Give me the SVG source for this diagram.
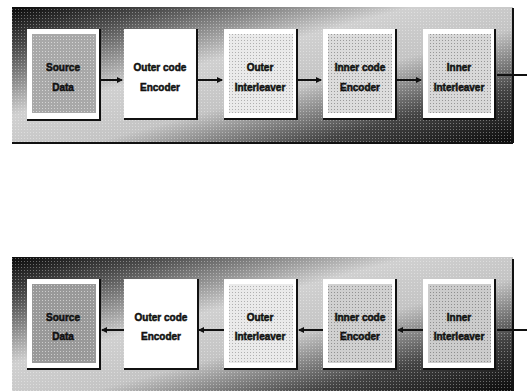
<svg xmlns="http://www.w3.org/2000/svg" width="527" height="391" viewBox="0 0 527 391">
<style>
.lbl{font-family:"Liberation Sans",Arial,sans-serif;font-weight:bold;font-size:10px;fill:#111;text-anchor:middle;stroke:#111;stroke-width:0.5}
.frame{fill:#fff}
.shadow{fill:none;stroke:#111;stroke-width:2}
.conn{stroke:#111;stroke-width:2;fill:none}
.edge{stroke:#111;stroke-width:2;fill:none}
</style>
<defs>
<linearGradient id="bg" x1="0" y1="0" x2="1" y2="1">
<stop offset="0" stop-color="#0a0a0a"/>
<stop offset="0.15" stop-color="#4a4a4a"/>
<stop offset="0.4" stop-color="#d0d0d0"/>
<stop offset="0.58" stop-color="#c4c4c4"/>
<stop offset="0.8" stop-color="#444"/>
<stop offset="1" stop-color="#0a0a0a"/>
</linearGradient>
<pattern id="dots" width="3" height="3" patternUnits="userSpaceOnUse">
<rect x="0" y="0" width="1" height="1" fill="#fff"/>
</pattern>
<pattern id="dotsd" width="3" height="3" patternUnits="userSpaceOnUse">
<rect x="1" y="1" width="1" height="1" fill="#000"/>
</pattern>
<marker id="ah" viewBox="0 0 6 6" refX="5" refY="3" markerWidth="3" markerHeight="3" orient="auto-start-reverse">
<path d="M0,0 L6,3 L0,6 z" fill="#111"/>
</marker>
</defs>

<g id="panel-top">
<rect x="12" y="7" width="501" height="136" fill="url(#bg)"/>
<rect x="12" y="7" width="501" height="136" fill="url(#dots)" opacity="0.35"/>
<path class="edge" d="M513,8 V143 M12,143 H513"/>
</g>
<g id="panel-bottom">
<rect x="12" y="257" width="501" height="134" fill="url(#bg)"/>
<rect x="12" y="257" width="501" height="134" fill="url(#dots)" opacity="0.35"/>
<path class="edge" d="M513,259 V391"/>
</g>

<g id="connectors">
<line class="conn" x1="101" y1="80" x2="122" y2="80" marker-end="url(#ah)"/>
<line class="conn" x1="198" y1="80" x2="222" y2="80" marker-end="url(#ah)"/>
<line class="conn" x1="298" y1="80" x2="321" y2="80" marker-end="url(#ah)"/>
<line class="conn" x1="397" y1="80" x2="421" y2="80" marker-end="url(#ah)"/>
<line class="conn" x1="497" y1="75" x2="527" y2="75"/>
<line class="conn" x1="102" y1="330" x2="124" y2="330" marker-start="url(#ah)"/>
<line class="conn" x1="199" y1="330" x2="224" y2="330" marker-start="url(#ah)"/>
<line class="conn" x1="299" y1="330" x2="323" y2="330" marker-start="url(#ah)"/>
<line class="conn" x1="398" y1="330" x2="423" y2="330" marker-start="url(#ah)"/>
<line class="conn" x1="497" y1="330" x2="527" y2="330"/>
</g>

<g id="t-source">
<rect class="frame" x="27" y="29" width="73" height="91"/>
<rect x="32" y="34" width="64" height="79" fill="#a8a8a8"/>
<rect x="32" y="34" width="64" height="79" fill="url(#dots)" opacity="0.5"/>
<path class="shadow" d="M100,29 V120 H27"/>
<text class="lbl" x="63" y="71">Source</text>
<text class="lbl" x="63" y="91">Data</text>
</g>
<g id="t-outer-enc">
<rect class="frame" x="124" y="29" width="73" height="90"/>
<path class="shadow" d="M197,29 V119 H124"/>
<text class="lbl" x="160" y="71">Outer code</text>
<text class="lbl" x="160" y="91">Encoder</text>
</g>
<g id="t-outer-int">
<rect class="frame" x="224" y="29" width="73" height="90"/>
<rect x="229" y="34" width="64" height="79" fill="#eaeaea"/>
<rect x="229" y="34" width="64" height="79" fill="url(#dotsd)" opacity="0.25"/>
<path class="shadow" d="M297,29 V119 H224"/>
<text class="lbl" x="260" y="71">Outer</text>
<text class="lbl" x="260" y="91">Interleaver</text>
</g>
<g id="t-inner-enc">
<rect class="frame" x="323" y="29" width="73" height="90"/>
<rect x="328" y="34" width="64" height="79" fill="#dcdcdc"/>
<rect x="328" y="34" width="64" height="79" fill="url(#dotsd)" opacity="0.3"/>
<path class="shadow" d="M396,29 V119 H323"/>
<text class="lbl" x="360" y="71">Inner code</text>
<text class="lbl" x="360" y="91">Encoder</text>
</g>
<g id="t-inner-int">
<rect class="frame" x="423" y="29" width="72" height="90"/>
<rect x="428" y="34" width="63" height="79" fill="#d8d8d8"/>
<rect x="428" y="34" width="63" height="79" fill="url(#dotsd)" opacity="0.3"/>
<path class="shadow" d="M495,29 V119 H423"/>
<text class="lbl" x="459" y="71">Inner</text>
<text class="lbl" x="459" y="91">Interleaver</text>
</g>

<g id="b-source">
<rect class="frame" x="27" y="279" width="73" height="90"/>
<rect x="32" y="284" width="64" height="79" fill="#999"/>
<rect x="32" y="284" width="64" height="79" fill="url(#dots)" opacity="0.5"/>
<path class="shadow" d="M100,279 V369 H27"/>
<text class="lbl" x="63" y="321">Source</text>
<text class="lbl" x="63" y="340">Data</text>
</g>
<g id="b-outer-enc">
<rect class="frame" x="124" y="279" width="74" height="90"/>
<path class="shadow" d="M198,279 V369 H124"/>
<text class="lbl" x="161" y="321">Outer code</text>
<text class="lbl" x="161" y="340">Encoder</text>
</g>
<g id="b-outer-int">
<rect class="frame" x="224" y="279" width="73" height="90"/>
<rect x="229" y="284" width="64" height="79" fill="#eaeaea"/>
<rect x="229" y="284" width="64" height="79" fill="url(#dotsd)" opacity="0.25"/>
<path class="shadow" d="M297,279 V369 H224"/>
<text class="lbl" x="260" y="321">Outer</text>
<text class="lbl" x="260" y="340">Interleaver</text>
</g>
<g id="b-inner-enc">
<rect class="frame" x="323" y="279" width="73" height="90"/>
<rect x="328" y="284" width="64" height="79" fill="#d0d0d0"/>
<rect x="328" y="284" width="64" height="79" fill="url(#dotsd)" opacity="0.3"/>
<path class="shadow" d="M396,279 V369 H323"/>
<text class="lbl" x="360" y="321">Inner code</text>
<text class="lbl" x="360" y="340">Encoder</text>
</g>
<g id="b-inner-int">
<rect class="frame" x="423" y="279" width="72" height="90"/>
<rect x="428" y="284" width="63" height="79" fill="#cccccc"/>
<rect x="428" y="284" width="63" height="79" fill="url(#dotsd)" opacity="0.3"/>
<path class="shadow" d="M495,279 V369 H423"/>
<text class="lbl" x="459" y="321">Inner</text>
<text class="lbl" x="459" y="340">Interleaver</text>
</g>
</svg>
